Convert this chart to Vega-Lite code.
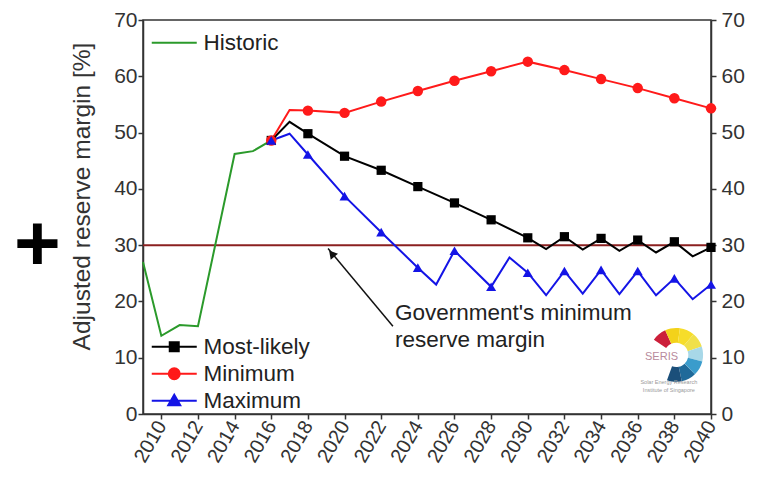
{
  "$schema": "https://vega.github.io/schema/vega-lite/v6.json",
  "width": 568,
  "height": 394,
  "autosize": {"type": "none"},
  "padding": {"left": 143, "top": 20, "right": 48, "bottom": 66},
  "background": "white",
  "title": {"text": "+", "orient": "left", "angle": 0, "fontSize": 80, "fontWeight": "bold", "color": "#000000", "font": "Liberation Sans", "offset": -15, "dy": -10},
  "config": {
    "view": {"stroke": "#333333", "strokeWidth": 1.5},
    "font": "Liberation Sans",
    "axis": {"labelFont": "Liberation Sans", "labelFontSize": 21, "labelColor": "#333333", "labelOverlap": false, "titleFont": "Liberation Sans", "titleFontSize": 24.5, "titleFontWeight": "normal", "titleColor": "#333333", "domainColor": "#333333", "domainWidth": 1.5, "tickColor": "#333333", "tickWidth": 1.5, "grid": false},
    "legend": {"labelFont": "Liberation Sans", "labelFontSize": 22.5, "labelColor": "#222222", "padding": 0}
  },
  "datasets": {
    "hist": [
      {"series": "Historic", "year": 2009, "value": 27.0},
      {"series": "Historic", "year": 2010, "value": 13.9},
      {"series": "Historic", "year": 2011, "value": 15.8},
      {"series": "Historic", "year": 2012, "value": 15.6},
      {"series": "Historic", "year": 2014, "value": 46.2},
      {"series": "Historic", "year": 2015, "value": 46.7},
      {"series": "Historic", "year": 2016, "value": 48.6}
    ],
    "proj": [
      {"series": "Most-likely", "year": 2016, "value": 48.6},
      {"series": "Most-likely", "year": 2017, "value": 51.9},
      {"series": "Most-likely", "year": 2018, "value": 49.8},
      {"series": "Most-likely", "year": 2020, "value": 45.8},
      {"series": "Most-likely", "year": 2022, "value": 43.3},
      {"series": "Most-likely", "year": 2024, "value": 40.4},
      {"series": "Most-likely", "year": 2026, "value": 37.5},
      {"series": "Most-likely", "year": 2028, "value": 34.5},
      {"series": "Most-likely", "year": 2030, "value": 31.3},
      {"series": "Most-likely", "year": 2031, "value": 29.3},
      {"series": "Most-likely", "year": 2032, "value": 31.5},
      {"series": "Most-likely", "year": 2033, "value": 29.2},
      {"series": "Most-likely", "year": 2034, "value": 31.2},
      {"series": "Most-likely", "year": 2035, "value": 29.0},
      {"series": "Most-likely", "year": 2036, "value": 30.9},
      {"series": "Most-likely", "year": 2037, "value": 28.7},
      {"series": "Most-likely", "year": 2038, "value": 30.6},
      {"series": "Most-likely", "year": 2039, "value": 28.0},
      {"series": "Most-likely", "year": 2040, "value": 29.6},
      {"series": "Minimum", "year": 2016, "value": 48.6},
      {"series": "Minimum", "year": 2017, "value": 54.0},
      {"series": "Minimum", "year": 2018, "value": 53.9},
      {"series": "Minimum", "year": 2020, "value": 53.5},
      {"series": "Minimum", "year": 2022, "value": 55.5},
      {"series": "Minimum", "year": 2024, "value": 57.4},
      {"series": "Minimum", "year": 2026, "value": 59.2},
      {"series": "Minimum", "year": 2028, "value": 60.9},
      {"series": "Minimum", "year": 2030, "value": 62.6},
      {"series": "Minimum", "year": 2032, "value": 61.1},
      {"series": "Minimum", "year": 2034, "value": 59.5},
      {"series": "Minimum", "year": 2036, "value": 57.9},
      {"series": "Minimum", "year": 2038, "value": 56.1},
      {"series": "Minimum", "year": 2040, "value": 54.3},
      {"series": "Maximum", "year": 2016, "value": 48.6},
      {"series": "Maximum", "year": 2017, "value": 49.8},
      {"series": "Maximum", "year": 2018, "value": 46.1},
      {"series": "Maximum", "year": 2020, "value": 38.7},
      {"series": "Maximum", "year": 2022, "value": 32.3},
      {"series": "Maximum", "year": 2024, "value": 26.0},
      {"series": "Maximum", "year": 2025, "value": 23.0},
      {"series": "Maximum", "year": 2026, "value": 29.0},
      {"series": "Maximum", "year": 2028, "value": 22.6},
      {"series": "Maximum", "year": 2029, "value": 27.8},
      {"series": "Maximum", "year": 2030, "value": 25.1},
      {"series": "Maximum", "year": 2031, "value": 21.1},
      {"series": "Maximum", "year": 2032, "value": 25.4},
      {"series": "Maximum", "year": 2033, "value": 21.4},
      {"series": "Maximum", "year": 2034, "value": 25.6},
      {"series": "Maximum", "year": 2035, "value": 21.3},
      {"series": "Maximum", "year": 2036, "value": 25.4},
      {"series": "Maximum", "year": 2037, "value": 21.1},
      {"series": "Maximum", "year": 2038, "value": 24.1},
      {"series": "Maximum", "year": 2039, "value": 20.4},
      {"series": "Maximum", "year": 2040, "value": 23.0}
    ],
    "gov": [{"value": 30}],
    "note": [
      {"x": 2022.75, "y": 17.9, "text": "Government's minimum"},
      {"x": 2022.75, "y": 13.1, "text": "reserve margin"}
    ],
    "arrow": [{"x": 2022.64, "y": 15.6, "x2": 2019.1, "y2": 29.4}],
    "head": [{"x": 2019.3, "y": 28.5}],
    "logo": [
      {"part": "p1", "deg": -40, "x": 2038.1, "y": 10.5},
      {"part": "p2", "deg": -8, "x": 2038.1, "y": 10.5},
      {"part": "p3", "deg": 24, "x": 2038.1, "y": 10.5},
      {"part": "p4", "deg": 56, "x": 2038.1, "y": 10.5},
      {"part": "p5", "deg": 88, "x": 2038.1, "y": 10.5},
      {"part": "p6", "deg": 120, "x": 2038.1, "y": 10.5},
      {"part": "p7", "deg": 152, "x": 2038.1, "y": 10.5},
      {"part": "p8", "deg": 184, "x": 2038.1, "y": 10.5}
    ],
    "logotext": [
      {"x": 2037.3, "y": 10.2, "size": "big", "text": "SERIS"},
      {"x": 2037.7, "y": 5.6, "size": "small", "text": "Solar Energy Research"},
      {"x": 2037.7, "y": 4.2, "size": "small", "text": "Institute of Singapore"}
    ]
  },
  "layer": [
    {
      "data": {"name": "gov"},
      "mark": {"type": "rule", "color": "#8b2020", "strokeWidth": 2},
      "encoding": {
        "y": {"field": "value", "type": "quantitative", "scale": {"domain": [0, 70], "nice": false, "zero": false},
          "axis": {"orient": "left", "values": [0, 10, 20, 30, 40, 50, 60, 70], "title": "Adjusted reserve margin [%]", "ticks": true, "tickSize": 5, "labelPadding": 1, "titleBaseline": "middle", "titleX": -61, "titleY": 176}}
      }
    },
    {
      "data": {"name": "hist"},
      "mark": {"type": "line", "strokeWidth": 2},
      "encoding": {
        "x": {"field": "year", "type": "quantitative", "scale": {"domain": [2009, 2040], "nice": false, "zero": false},
          "axis": {"values": [2010, 2012, 2014, 2016, 2018, 2020, 2022, 2024, 2026, 2028, 2030, 2032, 2034, 2036, 2038, 2040], "format": "d", "labelAngle": -60, "labelFontSize": 20, "labelOverlap": false, "title": null, "ticks": true, "tickSize": 5, "labelPadding": 3}},
        "y": {"field": "value", "type": "quantitative", "axis": null},
        "color": {"field": "series", "type": "nominal", "scale": {"domain": ["Historic"], "range": ["#2b9a2b"]},
          "legend": {"orient": "none", "legendX": 9, "legendY": 11.5, "title": null, "symbolSize": 100, "symbolOffset": 11, "labelOffset": 18, "symbolStrokeWidth": 2,
            "encode": {"symbols": {"update": {"shape": {"value": "M-4.5,0H4.5"}, "stroke": {"value": "#2b9a2b"}, "strokeWidth": {"value": 2}, "opacity": {"value": 1}}}}}}
      }
    },
    {
      "data": {"name": "proj"},
      "encoding": {
        "x": {"field": "year", "type": "quantitative", "scale": {"domain": [2009, 2040], "nice": false, "zero": false}, "axis": null},
        "y": {"field": "value", "type": "quantitative", "axis": {"orient": "right", "values": [0, 10, 20, 30, 40, 50, 60, 70], "title": null, "ticks": true, "tickSize": 5, "labelPadding": 5}},
        "color": {"field": "series", "type": "nominal", "scale": {"domain": ["Most-likely", "Minimum", "Maximum"], "range": ["#000000", "#ff1a1a", "#1414e6"]},
          "legend": {"orient": "none", "legendX": 9, "legendY": 315.5, "title": null, "symbolSize": 100, "symbolOffset": 11, "labelOffset": 18, "rowPadding": 4, "symbolStrokeWidth": 2,
            "encode": {"symbols": {"update": {
              "shape": {"signal": "datum.value === 'Most-likely' ? 'M-4.5,0H4.5M-0.9,-0.9H0.9V0.9H-0.9Z' : datum.value === 'Minimum' ? 'M-4.5,0H4.5M1.1,0A1.1,1.1,0,1,1,-1.1,0A1.1,1.1,0,1,1,1.1,0Z' : 'M-4.5,0H4.5M0,-1.2L1.2,0.9H-1.2Z'"},
              "fill": {"signal": "datum.value === 'Most-likely' ? '#000000' : datum.value === 'Minimum' ? '#ff1a1a' : '#1414e6'"},
              "stroke": {"signal": "datum.value === 'Most-likely' ? '#000000' : datum.value === 'Minimum' ? '#ff1a1a' : '#1414e6'"},
              "strokeWidth": {"value": 2}, "opacity": {"value": 1}, "fillOpacity": {"value": 1}}}}}}
      },
      "layer": [
        {"mark": {"type": "line", "strokeWidth": 2}},
        {
          "transform": [{"filter": "datum.series === 'Most-likely' && datum.year >= 2016 && datum.year % 2 == 0"}],
          "mark": {"type": "point", "shape": "square", "filled": true, "opacity": 1, "size": 85}
        },
        {
          "transform": [{"filter": "datum.series === 'Minimum' && datum.year >= 2016 && datum.year % 2 == 0"}],
          "mark": {"type": "point", "shape": "circle", "filled": true, "opacity": 1, "size": 110}
        },
        {
          "transform": [{"filter": "datum.series === 'Maximum' && datum.year >= 2016 && datum.year % 2 == 0"}],
          "mark": {"type": "point", "shape": "triangle-up", "filled": true, "opacity": 1, "size": 100}
        }
      ]
    },
    {
      "data": {"name": "note"},
      "mark": {"type": "text", "align": "left", "baseline": "middle", "fontSize": 22.5, "color": "#222222", "font": "Liberation Sans"},
      "encoding": {
        "x": {"field": "x", "type": "quantitative", "scale": {"domain": [2009, 2040], "nice": false, "zero": false}, "axis": null},
        "y": {"field": "y", "type": "quantitative", "axis": null},
        "text": {"field": "text"}
      }
    },
    {
      "data": {"name": "arrow"},
      "mark": {"type": "rule", "color": "#111111", "strokeWidth": 1.5},
      "encoding": {
        "x": {"field": "x", "type": "quantitative", "scale": {"domain": [2009, 2040], "nice": false, "zero": false}, "axis": null},
        "y": {"field": "y", "type": "quantitative", "axis": null},
        "x2": {"field": "x2"},
        "y2": {"field": "y2"}
      }
    },
    {
      "data": {"name": "head"},
      "mark": {"type": "point", "shape": "triangle-up", "filled": true, "color": "#111111", "opacity": 1, "size": 90, "angle": 320},
      "encoding": {
        "x": {"field": "x", "type": "quantitative", "scale": {"domain": [2009, 2040], "nice": false, "zero": false}, "axis": null},
        "y": {"field": "y", "type": "quantitative", "axis": null}
      }
    },
    {
      "data": {"name": "logo"},
      "mark": {"type": "point", "shape": "M-0.276,-0.961A1,1,0,0,1,0.276,-0.961L0.124,-0.433A0.45,0.45,0,0,0,-0.124,-0.433Z", "filled": true, "opacity": 1, "size": 2900},
      "encoding": {
        "x": {"field": "x", "type": "quantitative", "scale": {"domain": [2009, 2040], "nice": false, "zero": false}, "axis": null},
        "y": {"field": "y", "type": "quantitative", "axis": null},
        "angle": {"field": "deg", "type": "quantitative", "scale": {"domain": [0, 360], "range": [0, 360]}},
        "color": {"field": "part", "type": "nominal", "scale": {"domain": ["p1", "p2", "p3", "p4", "p5", "p6", "p7", "p8"], "range": ["#cc1f3a", "#f3d21a", "#f6dd2a", "#f0e04a", "#a8d8e8", "#3a9ccc", "#1f6a9a", "#1b4f7a"]}, "legend": null}
      }
    },
    {
      "data": {"name": "logotext"},
      "mark": {"type": "text", "align": "center", "baseline": "middle", "font": "Liberation Sans"},
      "encoding": {
        "x": {"field": "x", "type": "quantitative", "scale": {"domain": [2009, 2040], "nice": false, "zero": false}, "axis": null},
        "y": {"field": "y", "type": "quantitative", "axis": null},
        "text": {"field": "text"},
        "size": {"field": "size", "type": "nominal", "scale": {"domain": ["big", "small"], "range": [11, 5.5]}, "legend": null},
        "color": {"field": "size", "type": "nominal", "scale": {"domain": ["big", "small"], "range": ["#b88a9c", "#9a9a9a"]}, "legend": null}
      }
    }
  ],
  "resolve": {"scale": {"color": "independent", "size": "independent"}, "axis": {"x": "independent", "y": "independent"}}
}
